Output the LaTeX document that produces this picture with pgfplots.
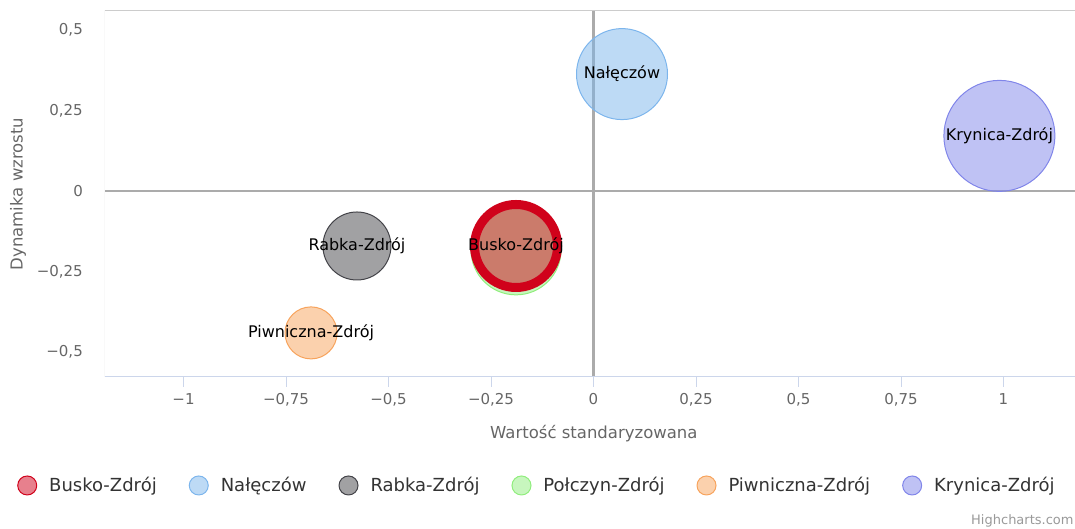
\documentclass[border=0pt]{standalone}
\usepackage{fontspec}
\setmainfont{DejaVu Sans}
\usepackage{pgfplots}
\pgfplotsset{compat=1.18}
\definecolor{cBusko}{HTML}{D0021B}
\definecolor{cNal}{HTML}{7CB5EC}
\definecolor{cRab}{HTML}{434348}
\definecolor{cPol}{HTML}{90ED7D}
\definecolor{cPiw}{HTML}{F7A35C}
\definecolor{cKry}{HTML}{8085E9}
\definecolor{gridc}{HTML}{ABABAB}
\definecolor{borderc}{HTML}{CCCCCC}
\definecolor{axisc}{HTML}{CCD6EB}
\definecolor{labc}{HTML}{666666}
\definecolor{legc}{HTML}{333333}
\definecolor{credc}{HTML}{999999}
\begin{document}
\begin{tikzpicture}
\useasboundingbox (-105pt,-152pt) rectangle (970pt,377pt);
\begin{axis}[
  scale only axis, width=970pt, height=366pt,
  xmin=-1.1915, xmax=1.1744, ymin=-0.578, ymax=0.559,
  axis line style={draw=none},
  xtick={-1,-0.75,-0.5,-0.25,0,0.25,0.5,0.75,1},
  xticklabels={−1,{−0,75},{−0,5},{−0,25},0,{0,25},{0,5},{0,75},1},
  ytick={-0.5,-0.25,0,0.25,0.5},
  yticklabels={{−0,5},{−0,25},0,{0,25},{0,5}},
  xtick pos=bottom, ytick pos=left,
  tick align=outside, major tick length=10pt,
  xtick style={draw=axisc, line width=1pt},
  ytick style={draw=none},
  xticklabel style={font=\fontsize{15}{18}\selectfont, text=labc, inner sep=0pt, anchor=north, yshift=-6pt},
  yticklabel style={font=\fontsize{15}{18}\selectfont, text=labc, inner sep=0pt, anchor=east, xshift=-12pt},
  extra x ticks={0}, extra x tick labels={},
  extra y ticks={0}, extra y tick labels={},
  extra tick style={grid=major, major grid style={draw=gridc, line width=2.3pt}, tick style={draw=none}},
  xlabel={Wartość standaryzowana},
  ylabel={Dynamika wzrostu},
  xlabel style={at={(axis description cs:0.504,-0.1557)}, anchor=center, font=\fontsize{16.5}{20}\selectfont, text=labc},
  ylabel style={at={(axis description cs:-0.0897,0.5)}, anchor=center, font=\fontsize{16.5}{20}\selectfont, text=labc},
  legend columns=6,
  legend style={draw=none, fill=none, inner sep=0pt, at={(axis description cs:-0.0907,-0.2964)}, anchor=west,
    font=\fontsize{18}{21}\selectfont, text=legc,
    nodes={inner sep=0pt},
    /tikz/every odd column/.style={column sep=12pt},
    /tikz/every even column/.style={column sep=32pt}},
  legend cell align=left,
  every node near coord/.style={anchor=center, font=\fontsize{16}{19}\selectfont, text=black, inner sep=0pt, opacity=1, text opacity=1, fill opacity=1},
]
% Nałęczów
\addplot[forget plot, only marks, mark=*, mark size=45.5pt,
  mark options={draw=cNal, fill=cNal, fill opacity=0.5, line width=1pt},
  nodes near coords={Nałęczów}] coordinates {(0.0695,0.363)};
% Rabka-Zdrój
\addplot[forget plot, only marks, mark=*, mark size=34pt,
  mark options={draw=cRab, fill=cRab, fill opacity=0.5, line width=1pt},
  nodes near coords={Rabka-Zdrój}] coordinates {(-0.577,-0.171)};
% Połczyn-Zdrój
\addplot[forget plot, only marks, mark=*, mark size=45pt,
  mark options={draw=cPol, fill=cPol, fill opacity=0.5, line width=1pt}] coordinates {(-0.189,-0.183)};
% Piwniczna-Zdrój
\addplot[forget plot, only marks, mark=*, mark size=26pt,
  mark options={draw=cPiw, fill=cPiw, fill opacity=0.5, line width=1pt},
  nodes near coords={Piwniczna-Zdrój}] coordinates {(-0.689,-0.441)};
% Krynica-Zdrój
\addplot[forget plot, only marks, mark=*, mark size=55.5pt,
  mark options={draw=cKry, fill=cKry, fill opacity=0.5, line width=1pt},
  nodes near coords={Krynica-Zdrój}] coordinates {(0.990,0.171)};
% Busko-Zdrój (highlighted)
\addplot[forget plot, only marks, mark=*, mark size=41.5pt,
  mark options={draw=cBusko, fill=cBusko, fill opacity=0.5, line width=9pt},
  nodes near coords={Busko-Zdrój}] coordinates {(-0.189,-0.171)};
\draw[borderc, line width=1pt] (rel axis cs:0,0) |- (rel axis cs:1,1);
\draw[axisc, line width=1pt] (rel axis cs:0,0) -- (rel axis cs:1,0);
\addlegendimage{legend image code/.code={\draw[draw=cBusko, fill=cBusko, fill opacity=0.5, line width=1pt] (0pt,0pt) circle (9.5pt);}}
\addlegendentry{Busko-Zdrój}
\addlegendimage{legend image code/.code={\draw[draw=cNal, fill=cNal, fill opacity=0.5, line width=1pt] (0pt,0pt) circle (9.5pt);}}
\addlegendentry{Nałęczów}
\addlegendimage{legend image code/.code={\draw[draw=cRab, fill=cRab, fill opacity=0.5, line width=1pt] (0pt,0pt) circle (9.5pt);}}
\addlegendentry{Rabka-Zdrój}
\addlegendimage{legend image code/.code={\draw[draw=cPol, fill=cPol, fill opacity=0.5, line width=1pt] (0pt,0pt) circle (9.5pt);}}
\addlegendentry{Połczyn-Zdrój}
\addlegendimage{legend image code/.code={\draw[draw=cPiw, fill=cPiw, fill opacity=0.5, line width=1pt] (0pt,0pt) circle (9.5pt);}}
\addlegendentry{Piwniczna-Zdrój}
\addlegendimage{legend image code/.code={\draw[draw=cKry, fill=cKry, fill opacity=0.5, line width=1pt] (0pt,0pt) circle (9.5pt);}}
\addlegendentry{Krynica-Zdrój}
\end{axis}
\node[anchor=west, inner sep=0pt, font=\fontsize{13}{16}\selectfont, text=credc] at (866pt,-144pt) {Highcharts.com};
\end{tikzpicture}
\end{document}
